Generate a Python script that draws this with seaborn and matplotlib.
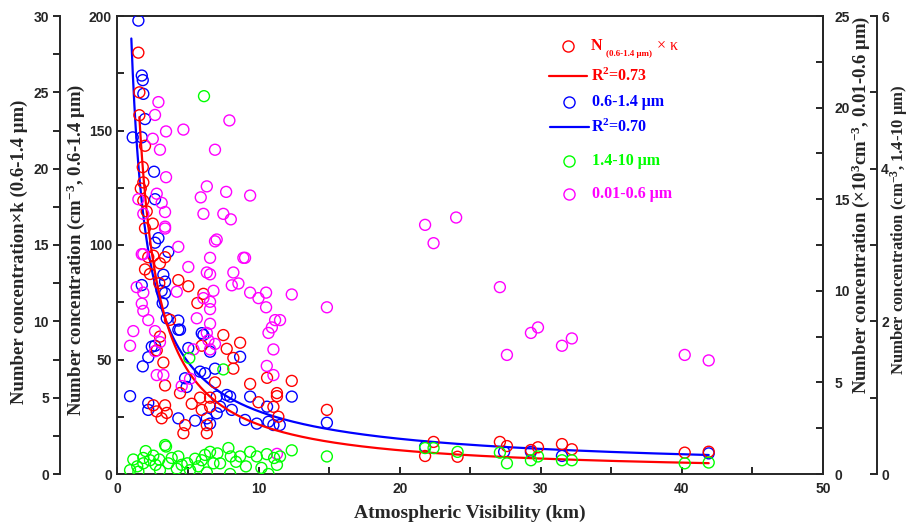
import numpy as np
import pandas as pd
import matplotlib
matplotlib.use("Agg")
import matplotlib.pyplot as plt
import seaborn as sns
from matplotlib.ticker import MultipleLocator

# ---- data -------------------------------------------------------------
# 0.6-1.4 um number concentration (cm^-3) vs visibility (km)
vis_blue = [1.48, 1.72, 1.79, 1.83, 1.95, 1.08, 1.72, 2.59, 2.66, 2.9, 2.66, 3.6,
            3.25, 3.13, 3.37, 1.72, 3.37, 3.2, 3.49, 4.31, 4.31, 2.66, 2.18, 1.79,
            0.89, 2.18, 2.18, 4.31, 5.5, 5.02, 5.97, 6.56, 6.91, 5.85, 6.2, 4.79,
            4.9, 7.03, 7.74, 7.98, 8.69, 9.4, 8.1, 7.03, 6.33, 6.56, 7.27, 9.04,
            9.87, 10.7, 11.05, 11.5, 12.35, 14.84, 10.6, 21.8, 27.4, 29.3, 31.5,
            41.9, 2.43, 6.09, 4.43]
conc_blue = [198, 174, 172, 166, 155, 147, 147, 132, 120, 103, 101, 97,
             87, 80, 79, 82.5, 84, 74.6, 68, 67, 63, 56, 51, 47,
             34, 31, 28, 24.3, 23.3, 55, 61.5, 53.4, 46, 44.7, 44, 41.8,
             38, 33.8, 34.5, 33.8, 51.2, 33.8, 28, 26.5, 24.3, 22, 29.4, 23.6,
             22, 22.8, 21.4, 21.4, 33.8, 22.4, 29.4, 11.9, 9.7, 9.7, 7.9,
             9.0, 55.6, 60.7, 63]

# N(0.6-1.4 um) x kappa vs visibility
vis_red = [1.48, 1.55, 1.55, 1.95, 1.79, 1.83, 1.65, 1.83, 2.07, 1.95, 2.5, 2.18,
           2.54, 3.01, 3.37, 1.95, 2.3, 2.96, 4.31, 5.02, 3.72, 6.09, 3.01, 2.78,
           3.25, 5.97, 5.66, 7.5, 8.69, 7.74, 8.21, 8.21, 3.37, 4.43, 5.26, 5.85,
           2.54, 3.37, 2.78, 3.13, 3.49, 4.79, 4.67, 6.33, 6.33, 5.97, 6.56, 6.91,
           6.56, 9.4, 9.99, 10.6, 11.05, 11.3, 11.4, 12.35, 14.84, 11.3, 22.4,
           21.8, 24.1, 27.1, 27.6, 29.3, 29.8, 31.5, 32.2, 40.2, 41.9]
nk_red = [27.6, 25.0, 23.5, 21.5, 20.1, 19.1, 18.7, 17.9, 17.2, 16.1, 16.4, 14.2,
          14.3, 13.8, 14.2, 13.4, 13.1, 12.5, 12.7, 12.3, 10.1, 11.8, 9.0, 8.1,
          7.3, 8.4, 11.2, 9.1, 8.6, 8.2, 7.6, 6.9, 5.8, 5.3, 4.6, 5.0,
          4.5, 4.5, 4.1, 3.65, 4.0, 3.2, 2.67, 3.2, 2.67, 4.2, 5.0, 6.0,
          4.4, 5.9, 4.7, 6.3, 4.4, 5.1, 3.75, 6.1, 4.2, 5.3, 2.1,
          1.18, 1.13, 2.1, 1.83, 1.57, 1.75, 1.96, 1.62, 1.4, 1.46]

# 1.4-10 um number concentration (cm^-3)
vis_green = [6.13, 5.09, 7.5, 1.12, 1.83, 2.54, 2.96, 3.44, 3.6, 4.31, 4.95, 4.2,
             0.89, 1.48, 3.01, 5.14, 5.97, 6.56, 7.08, 6.8, 7.86, 8.03, 8.69, 9.4,
             9.87, 10.58, 11.1, 11.52, 12.35, 14.84, 6.33, 7.98, 10.7, 5.73, 7.27,
             1.83, 2.3, 3.84, 4.55, 21.8, 22.4, 24.1, 27.1, 27.6, 29.3, 29.8, 31.5,
             32.2, 40.2, 41.9, 3.37, 1.4, 2.0, 2.7, 5.5, 6.2, 8.4, 9.1, 10.2, 11.3]
conc_green = [4.95, 1.52, 1.37, 0.19, 0.21, 0.24, 0.19, 0.36, 0.14, 0.23, 0.14, 0.07,
              0.05, 0.03, 0.05, 0.05, 0.18, 0.29, 0.27, 0.14, 0.34, 0.23, 0.23, 0.29,
              0.23, 0.26, 0.21, 0.23, 0.31, 0.23, 0.02, 0.0, 0.0, 0.1, 0.14,
              0.14, 0.18, 0.21, 0.12, 0.34, 0.34, 0.29, 0.28, 0.14, 0.18, 0.23, 0.18,
              0.18, 0.14, 0.15, 0.38, 0.1, 0.3, 0.12, 0.2, 0.25, 0.16, 0.1, 0.08, 0.12]

# 0.01-0.6 um number concentration (x10^3 cm^-3)
vis_mag = [2.9, 2.66, 3.44, 4.67, 2.5, 3.01, 6.91, 7.93, 3.44, 6.33, 5.9, 7.7,
           9.4, 3.13, 3.37, 6.09, 7.5, 8.03, 3.37, 7.03, 4.31, 1.48, 1.83, 2.78,
           21.8, 24.0, 22.4, 27.1, 29.3, 29.8, 27.6, 31.5, 32.2, 40.2, 41.9, 14.84,
           1.83, 5.02, 6.33, 6.56, 8.21, 9.04, 8.1, 8.57, 9.4, 9.99, 10.53, 10.53,
           12.35, 11.17, 11.52, 10.94, 10.7, 11.05, 10.58, 11.05, 6.8, 6.09, 6.56,
           6.56, 5.62, 6.56, 6.33, 6.91, 6.44, 6.56, 5.38, 4.2, 1.36, 1.83, 1.72,
           1.83, 2.18, 1.12, 0.89, 2.66, 3.01, 2.66, 3.25, 2.78, 5.14, 4.55, 6.56,
           1.72, 6.91, 8.92, 11.3, 3.37]
conc_mag = [20.3, 19.6, 18.7, 18.8, 18.3, 17.7, 17.7, 19.3, 16.2, 15.7, 15.1, 15.4,
            15.2, 14.8, 14.3, 14.2, 14.2, 13.9, 13.4, 12.8, 12.4, 15.0, 14.2, 15.3,
            13.6, 14.0, 12.6, 10.2, 7.7, 8.0, 6.5, 7.0, 7.4, 6.5, 6.2, 9.1,
            12.0, 11.3, 11.0, 10.9, 11.0, 11.8, 10.3, 10.4, 9.9, 9.6, 9.9, 9.1,
            9.8, 8.4, 8.4, 8.0, 7.7, 6.8, 5.9, 5.4, 10.0, 9.6, 9.4,
            9.0, 8.5, 8.2, 7.7, 7.1, 7.3, 6.8, 6.8, 9.95, 10.2, 9.9, 9.3,
            8.9, 8.4, 7.8, 7.0, 7.8, 7.2, 6.7, 5.4, 5.4, 5.2, 4.8, 11.8,
            12.0, 12.7, 11.8, 1.1, 13.5]

# power-law fits  y = a * x**b
fit_blue = dict(a=187.0, b=-0.834, x0=0.98, x1=41.9)   # R^2 = 0.70
fit_red = dict(a=37.2, b=-1.06, x0=1.55, x1=41.9)      # R^2 = 0.73

RED, BLUE, GREEN, MAG = "#FF0000", "#0000FF", "#00FF00", "#FF00FF"

# ---- style ------------------------------------------------------------
sns.set_style("ticks")
plt.rcParams.update({
    "font.family": ["Liberation Sans", "DejaVu Sans"],
    "font.weight": "bold",
    "mathtext.fontset": "custom",
    "mathtext.rm": "Liberation Serif:bold",
    "mathtext.it": "Liberation Serif:italic:bold",
    "mathtext.bf": "Liberation Serif:bold",
    "mathtext.default": "rm",
    "axes.linewidth": 1.4,
})
SERIF = ["Liberation Serif", "DejaVu Serif"]

W, H = 911, 526
fig = plt.figure(figsize=(W / 100, H / 100), dpi=100)
L, R, T, B = 117.5, 823, 16, 474
ax = fig.add_axes([L / W, 1 - B / H, (R - L) / W, (B - T) / H])
ax_r = ax.twinx()   # N x kappa, outer left
ax_m = ax.twinx()   # 0.01-0.6 um, right
ax_g = ax.twinx()   # 1.4-10 um, outer right


def hollow(axis, x, y, color, z):
    df = pd.DataFrame({"x": x, "y": y})
    sns.scatterplot(data=df, x="x", y="y", ax=axis, marker="o", s=62,
                    facecolor="none", edgecolor=color, color=color,
                    linewidth=1.0, legend=False, zorder=z)


def fit_curve(axis, fit, color):
    xs = np.linspace(fit["x0"], fit["x1"], 400)
    df = pd.DataFrame({"x": xs, "y": fit["a"] * xs ** fit["b"]})
    sns.lineplot(data=df, x="x", y="y", ax=axis, color=color, lw=1.6,
                 estimator=None, zorder=5)


hollow(ax_g, vis_green, conc_green, GREEN, 2)
hollow(ax_m, vis_mag, conc_mag, MAG, 3)
hollow(ax, vis_blue, conc_blue, BLUE, 3)
fit_curve(ax, fit_blue, BLUE)
hollow(ax_r, vis_red, nk_red, RED, 4)
fit_curve(ax_r, fit_red, RED)

# ---- axes -------------------------------------------------------------
ax.set_xlim(0, 50)
ax.set_ylim(0, 200)
ax_r.set_ylim(0, 30)
ax_m.set_ylim(0, 25)
ax_g.set_ylim(0, 6)

ax.xaxis.set_major_locator(MultipleLocator(10))
ax.xaxis.set_minor_locator(MultipleLocator(5))
ax.yaxis.set_major_locator(MultipleLocator(50))
ax.yaxis.set_minor_locator(MultipleLocator(25))
ax_r.yaxis.set_major_locator(MultipleLocator(5))
ax_r.yaxis.set_minor_locator(MultipleLocator(2.5))
ax_m.yaxis.set_major_locator(MultipleLocator(5))
ax_m.yaxis.set_minor_locator(MultipleLocator(2.5))
ax_g.yaxis.set_major_locator(MultipleLocator(2))
ax_g.yaxis.set_minor_locator(MultipleLocator(1))

tk = dict(which="both", length=5, width=1.4, labelsize=10)
ax.tick_params(axis="x", direction="in", top=False, pad=6, **tk)
ax.tick_params(axis="y", direction="in", left=True, right=False, pad=4, **tk)

for a in (ax_r, ax_m, ax_g):
    for s in a.spines.values():
        s.set_visible(False)

ax_r.yaxis.set_ticks_position("left")
ax_r.yaxis.set_label_position("left")
ax_r.spines["left"].set_visible(True)
ax_r.spines["left"].set_position(("axes", -(L - 60) / (R - L)))
ax_r.tick_params(axis="y", direction="out", left=True, right=False,
                 labelleft=True, labelright=False, pad=3, **tk)

ax_m.spines["right"].set_visible(True)
ax_m.tick_params(axis="y", direction="in", right=True, left=False,
                 labelright=True, labelleft=False, pad=8, **tk)

ax_g.spines["right"].set_visible(True)
ax_g.spines["right"].set_position(("axes", (877 - L) / (R - L)))
ax_g.tick_params(axis="y", direction="in", right=True, left=False,
                 labelright=True, labelleft=False, pad=3, **tk)

for a in (ax, ax_r, ax_m, ax_g):
    a.set_xlabel("")
    a.set_ylabel("")

ax.set_xlabel("Atmospheric Visibility (km)", fontfamily=SERIF,
              fontweight="bold", fontsize=14, labelpad=6)


def ylab(a, text, cx, cy, size=13.5):
    a.set_ylabel(text, ha="center", va="center", rotation=90,
                 fontfamily=SERIF, fontweight="bold", fontsize=size)
    a.yaxis.set_label_coords((cx - L) / (R - L), (B - cy) / (B - T))


ylab(ax_r, "Number concentration×k (0.6-1.4 μm)", 19, 252)
ylab(ax, "Number concentration (cm$^{-3}$, 0.6-1.4 μm)", 76, 250)
ylab(ax_m, "Number concentration (×10$^{3}$cm$^{-3}$, 0.01-0.6 μm)", 861, 205)
ylab(ax_g, "Number concentration (cm$^{-3}$, 1.4-10 μm)", 899, 230, size=12)

# ---- legend -----------------------------------------------------------
def fp(px, py):
    return px / W, 1 - py / H


def key_marker(px, py, color):
    fig.lines.append(plt.Line2D([px / W], [1 - py / H], transform=fig.transFigure,
                                marker="o", ms=8, mfc="none", mec=color, mew=1.0,
                                ls="none"))


def key_line(px0, px1, py, color):
    fig.lines.append(plt.Line2D([px0 / W, px1 / W], [1 - py / H] * 2,
                                transform=fig.transFigure, color=color, lw=1.6))


def key_text(px, py, text, color, size=11.5, weight="bold"):
    fig.text(*fp(px, py), text, color=color, fontsize=size, fontweight=weight,
             fontfamily=SERIF, ha="left", va="center")


key_marker(568, 46, RED)
key_text(591, 46, "N", RED)
key_text(606, 54, "(0.6-1.4 μm)", RED, size=6.5)
key_text(657, 46, "× κ", RED, weight="normal")
key_line(549, 587, 76, RED)
key_text(591, 76, "R$^{2}$=0.73", RED)
key_marker(569, 102, BLUE)
key_text(592, 102, "0.6-1.4 μm", BLUE)
key_line(550, 589, 127, BLUE)
key_text(591, 127, "R$^{2}$=0.70", BLUE)
key_marker(569, 161, GREEN)
key_text(592, 161, "1.4-10 μm", GREEN)
key_marker(569, 194, MAG)
key_text(592, 194, "0.01-0.6 μm", MAG)

fig.savefig("out.png", dpi=100)
